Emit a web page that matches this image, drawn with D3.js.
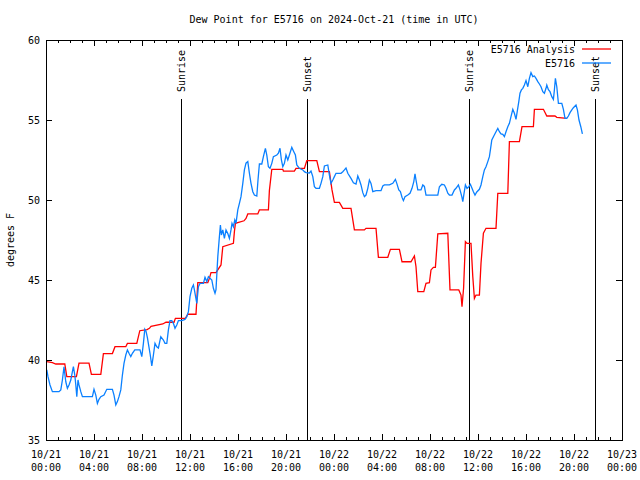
<!DOCTYPE html>
<html><head><meta charset="utf-8">
<script src="https://cdn.jsdelivr.net/npm/d3@7"></script>
<style>body{margin:0;background:#fff}svg text{font-family:"DejaVu Sans Mono",monospace;font-size:10px;fill:#000}</style>
</head><body><svg id="c" width="640" height="480"></svg>
<script>
const title = "Dew Point for E5716 on 2024-Oct-21 (time in UTC)";
const yLabel = "degrees F";
const seriesNames = ["E5716 Analysis", "E5716"];
// minutes since 2024-10-21 00:00 UTC
const analysisMinutes = [4,32,49,94,104,152,165,215,227,274,287,332,345,399,407,454,469,505,517,525,584,600,640,647,697,709,750,759,809,817,825,850,875,884,937,942,947,990,1000,1009,1059,1067,1112,1117,1129,1184,1187,1242,1250,1292,1304,1354,1367,1417,1430,1442,1467,1484,1525,1542,1592,1600,1650,1662,1709,1722,1767,1780,1825,1842,1850,1859,1889,1900,1917,1925,1937,1947,1959,2009,2020,2064,2075,2080,2088,2097,2105,2125,2134,2142,2150,2167,2175,2187,2200,2250,2259,2309,2317,2367,2380,2437,2442,2487,2504,2545,2554,2604];
const analysisValues = [39.90,39.83,39.75,39.75,38.96,38.96,39.80,39.80,39.10,39.10,40.40,40.40,40.83,40.83,41.04,41.04,41.83,41.90,41.98,42.10,42.25,42.36,42.36,42.60,42.60,42.86,42.86,44.83,44.83,45.10,45.46,45.46,45.94,47.08,47.29,48.02,48.54,48.70,48.85,49.13,49.13,49.38,49.38,50.60,51.92,51.92,51.81,51.81,51.98,51.98,52.46,52.46,51.77,51.77,50.63,49.85,49.85,49.48,49.48,48.13,48.13,48.23,48.23,46.42,46.42,46.92,46.92,46.14,46.14,46.50,45.83,44.27,44.27,44.79,44.83,45.63,45.79,45.79,47.88,47.92,44.38,44.38,44.06,43.33,44.50,47.40,47.29,47.29,45.20,43.85,44.06,44.06,46.04,47.92,48.23,48.23,50.42,50.42,53.65,53.65,54.58,54.58,55.67,55.67,55.25,55.25,55.17,55.10];
const obsMinutes = [4,10,20,32,65,74,82,90,99,107,115,124,132,137,144,149,154,160,165,174,182,232,240,249,257,265,274,290,304,332,340,349,357,365,374,382,390,399,407,415,424,432,444,470,479,487,494,500,507,520,529,537,545,554,562,574,587,595,604,612,620,629,637,645,654,662,679,695,704,712,720,729,737,742,754,762,770,787,795,804,812,829,837,845,850,859,867,872,877,884,892,900,909,917,925,930,937,944,950,959,967,975,984,992,1000,1009,1017,1025,1034,1042,1054,1060,1067,1079,1087,1097,1104,1112,1120,1129,1137,1154,1162,1170,1177,1184,1192,1200,1209,1217,1229,1239,1247,1254,1267,1284,1292,1300,1317,1325,1334,1342,1350,1367,1375,1384,1392,1409,1417,1425,1434,1442,1450,1475,1484,1492,1500,1509,1525,1537,1550,1559,1567,1575,1584,1592,1600,1609,1617,1625,1634,1650,1675,1684,1692,1717,1734,1747,1754,1764,1772,1780,1787,1795,1809,1820,1830,1839,1845,1850,1859,1875,1884,1892,1900,1959,1967,1979,1992,2000,2009,2017,2030,2042,2050,2062,2070,2079,2084,2090,2097,2105,2114,2122,2130,2137,2145,2154,2167,2175,2184,2192,2200,2209,2217,2222,2229,2239,2250,2259,2267,2275,2284,2292,2300,2309,2317,2325,2334,2342,2350,2357,2364,2370,2377,2384,2392,2400,2409,2417,2425,2434,2442,2450,2459,2467,2475,2484,2492,2500,2504,2512,2520,2529,2537,2542,2547,2554,2562,2579,2587,2595,2604,2612,2620,2629,2637,2650,2657,2665,2674,2682];
const obsValues = [39.38,38.96,38.44,38.02,38.02,38.13,38.75,39.58,38.64,38.23,38.44,38.75,39.27,39.58,39.06,38.44,37.71,38.75,38.44,38.02,37.71,37.71,38.17,37.81,37.29,37.54,37.71,37.81,38.17,38.17,37.81,37.19,37.40,37.71,38.13,39.06,39.79,40.31,40.63,40.42,40.21,40.42,40.63,40.63,40.21,41.04,41.92,41.80,41.40,40.42,39.63,40.31,41.04,40.83,40.75,41.46,41.25,41.04,41.04,41.88,42.46,42.46,42.29,41.98,42.19,42.46,42.46,42.54,42.71,43.02,43.96,44.48,44.69,44.38,43.54,44.58,44.79,44.79,45.17,44.90,45.21,45.00,44.48,44.17,44.40,46.46,47.71,48.44,47.81,48.13,47.60,48.13,47.90,47.60,48.13,48.54,48.33,48.75,48.54,49.38,49.79,50.21,51.04,51.88,52.30,52.40,51.67,51.04,50.52,50.31,50.25,51.25,52.25,52.25,52.71,53.23,52.81,52.08,51.98,52.29,52.71,52.81,52.92,53.23,52.50,52.08,52.29,52.81,52.50,52.81,53.29,53.02,52.81,52.19,51.98,51.88,51.77,51.71,51.69,51.81,51.46,50.83,50.73,50.73,51.04,51.46,52.13,52.19,51.56,51.04,51.25,51.46,51.67,51.67,51.77,51.88,52.00,51.67,51.35,51.08,51.00,51.50,51.25,50.94,50.46,50.21,50.31,50.73,51.25,51.04,50.52,50.58,50.58,50.88,50.94,50.94,51.04,51.29,51.04,50.63,50.52,50.17,49.96,50.21,50.31,50.42,50.73,51.15,51.63,51.25,50.63,50.63,50.94,50.85,50.31,50.31,50.83,50.98,50.94,50.73,50.42,50.31,50.31,50.63,50.73,50.94,50.63,50.21,49.90,50.40,50.94,50.73,50.83,50.98,50.73,50.52,50.31,50.50,50.67,50.94,51.46,51.88,52.08,52.40,52.71,53.13,53.75,54.00,54.27,54.48,54.27,54.13,54.10,53.96,54.27,54.58,54.79,55.21,55.67,55.42,55.04,55.60,56.15,56.67,56.88,56.98,57.19,57.46,57.08,57.60,57.96,57.71,57.75,57.60,57.40,57.25,57.08,56.77,56.67,56.98,57.19,56.90,56.77,56.46,56.29,56.88,57.60,57.08,56.04,56.04,55.67,55.10,55.10,55.25,55.46,55.63,55.77,55.94,55.63,55.00,54.58,54.13];
const eventNames = ["Sunrise","Sunset","Sunrise","Sunset"];
const eventMinutes = [675,1305,2115,2745];
const xTickMinutes = [0,240,480,720,960,1200,1440,1680,1920,2160,2400,2640,2880];
const xTickDates = ["10/21","10/21","10/21","10/21","10/21","10/21","10/22","10/22","10/22","10/22","10/22","10/22","10/23"];
const xTickTimes = ["00:00","04:00","08:00","12:00","16:00","20:00","00:00","04:00","08:00","12:00","16:00","20:00","00:00"];
const yTicks = [35,40,45,50,55,60];

const L=46,R=622,T=40,B=440;
const svg=d3.select("#c");
const x=d3.scaleLinear().domain([0,2880]).range([L,R]);
const y=d3.scaleLinear().domain([35,60]).range([B,T]);
const red="#ff0000", blue="#0a80ff";

svg.append("text").attr("x",(L+R)/2).attr("y",23).attr("text-anchor","middle").text(title);
svg.append("text").attr("transform",`translate(14,${(T+B)/2}) rotate(-90)`).attr("text-anchor","middle").text(yLabel);

// axes with ticks inward
const minor=d3.range(0,2881,60);
const g=svg.append("g").attr("stroke","#000").attr("stroke-width",1).attr("shape-rendering","crispEdges");
minor.forEach(m=>{
  const len = m%240===0?6:3;
  g.append("line").attr("x1",x(m)).attr("x2",x(m)).attr("y1",B).attr("y2",B-len);
  g.append("line").attr("x1",x(m)).attr("x2",x(m)).attr("y1",T).attr("y2",T+len);
});
yTicks.forEach(v=>{
  g.append("line").attr("x1",L).attr("x2",L+6).attr("y1",y(v)).attr("y2",y(v));
  g.append("line").attr("x1",R).attr("x2",R-6).attr("y1",y(v)).attr("y2",y(v));
});
const yAxis=d3.axisLeft(y).tickValues(yTicks).tickSize(0).tickPadding(6);
const ya=svg.append("g").attr("transform",`translate(${L},0)`).call(yAxis);
ya.select(".domain").remove();
ya.selectAll("text").style("font-family","DejaVu Sans Mono").style("font-size","10px");

const xl=svg.append("g");
xTickMinutes.forEach((m,i)=>{
  const t=xl.append("text").attr("x",x(m)).attr("text-anchor","middle");
  t.append("tspan").attr("x",x(m)).attr("y",458).text(xTickDates[i]);
  t.append("tspan").attr("x",x(m)).attr("y",471).text(xTickTimes[i]);
});

// events
eventMinutes.forEach((m,i)=>{
  svg.append("line").attr("x1",x(m)).attr("x2",x(m)).attr("y1",99).attr("y2",B)
    .attr("stroke","#000").attr("stroke-width",1).attr("shape-rendering","crispEdges");
  svg.append("text").attr("transform",`translate(${x(m)+4},92) rotate(-90)`).attr("text-anchor","start").text(eventNames[i]);
});

const line=d3.line().x(d=>x(d[0])).y(d=>y(d[1]));
svg.append("path").datum(analysisMinutes.map((m,i)=>[m,analysisValues[i]]))
  .attr("d",line).attr("fill","none").attr("stroke",red).attr("stroke-width",1.3);
svg.append("path").datum(obsMinutes.map((m,i)=>[m,obsValues[i]]))
  .attr("d",line).attr("fill","none").attr("stroke",blue).attr("stroke-width",1.3);

// frame
svg.append("rect").attr("x",L).attr("y",T).attr("width",R-L).attr("height",B-T)
  .attr("fill","none").attr("stroke","#000").attr("shape-rendering","crispEdges");

// legend
const lg=[[seriesNames[0],red,50],[seriesNames[1],blue,64]];
lg.forEach(([n,c,yy])=>{
  svg.append("text").attr("x",575).attr("y",yy+3).attr("text-anchor","end").text(n);
  svg.append("line").attr("x1",582).attr("x2",611).attr("y1",yy-1).attr("y2",yy-1).attr("stroke",c).attr("stroke-width",1.3);
});
</script></body></html>
